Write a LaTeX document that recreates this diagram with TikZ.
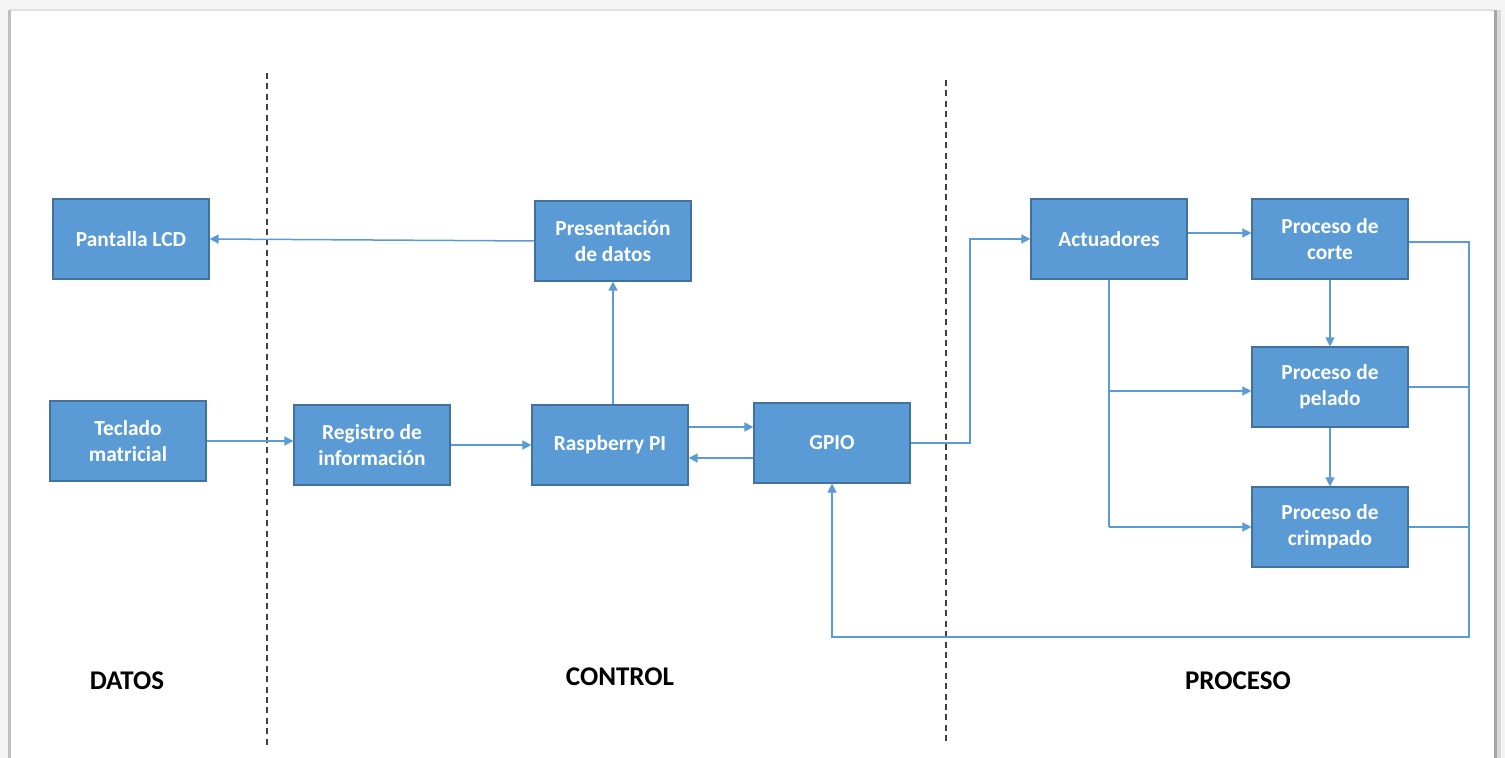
\documentclass[tikz,border=0pt]{standalone}
\usepackage{fontspec}
\setmainfont{Carlito}
\usetikzlibrary{arrows.meta,calc}
\definecolor{boxfill}{HTML}{5B9BD5}
\definecolor{boxline}{HTML}{41719C}
\definecolor{linec}{HTML}{5B9BD5}
\tikzset{
  blk/.style={draw=boxline, line width=0.6pt, fill=boxfill, text=white,
    minimum width=78pt, minimum height=40pt, inner sep=1pt, align=center,
    font=\fontsize{10.7}{13}\selectfont\bfseries},
  conn/.style={draw=linec, line width=0.75pt},
  arr/.style={conn, -{Triangle[length=4.5pt,width=4.5pt]}},
  sep/.style={draw=black!75, line width=0.9pt, dash pattern=on 3pt off 2.2pt},
  zone/.style={font=\fontsize{13.5}{15}\selectfont\bfseries, text=black}
}
\begin{document}
\begin{tikzpicture}[x=0.5pt,y=-0.5pt]
\useasboundingbox (0,0) rectangle (1505,758);
\fill[white] (0,0) rectangle (1505,758);
% panel frame with shadow
\fill[black!4] (0,0) rectangle (1505,10);
\fill[black!4] (0,0) rectangle (9,758);
\fill[black!4] (1494,0) rectangle (1505,758);
\draw[black!12, line width=1pt] (9,10) -- (1494,10);
\draw[black!25, line width=1.5pt] (9,10) -- (9,758);
\draw[black!35, line width=2.5pt] (1496,10) -- (1496,758);
\draw[black!15, line width=2pt] (1499,10) -- (1499,758);
% separators
\draw[sep] (267,73) -- (267,745);
\draw[sep] (946,80) -- (946,745);
% blocks
\node[blk] (lcd) at (131,239) {Pantalla LCD};
\node[blk] (tec) at (128,441) {Teclado\\matricial};
\node[blk] (reg) at (372,445) {Registro de\\información};
\node[blk] (pres) at (613,241) {Presentación\\de datos};
\node[blk] (rasp) at (610,445) {Raspberry PI};
\node[blk] (gpio) at (832,443) {GPIO};
\node[blk] (act) at (1109,239) {Actuadores};
\node[blk] (corte) at (1330,239) {Proceso de\\corte};
\node[blk] (pel) at (1330,387) {Proceso de\\pelado};
\node[blk] (crim) at (1330,527) {Proceso de\\crimpado};
% zone labels
\node[zone] (ldatos) at (127,681) {DATOS};
\node[zone] (lcontrol) at (620,677) {CONTROL};
\node[zone] (lproceso) at (1238,681) {PROCESO};
% connectors
\draw[arr] (pres.west) -- (lcd.east);
\draw[arr] (tec.east) -- (tec.east -| reg.west);
\draw[arr] (reg.east) -- (reg.east -| rasp.west);
\draw[arr] (rasp.north -| pres.south) -- (pres.south);
\coordinate (r1) at ($(rasp.east)+(0,-18)$);
\coordinate (r2) at ($(gpio.west)+(0,15)$);
\draw[arr] (r1) -- (r1 -| gpio.west);
\draw[arr] (r2) -- (r2 -| rasp.east);
\coordinate (g1) at (970,0);
\draw[arr] (gpio.east) -- (gpio.east -| g1) |- (act.west);
\coordinate (a1) at ($(act.east)+(0,-6)$);
\draw[arr] (a1) -- (a1 -| corte.west);
\coordinate (a2) at ($(pel.west)+(0,4)$);
\draw[conn] (act.south) -- (act.south |- crim.west);
\draw[arr] (act.south |- a2) -- (a2);
\draw[arr] (act.south |- crim.west) -- (crim.west);
\draw[arr] (corte.south) -- (pel.north);
\draw[arr] (pel.south) -- (crim.north);
\coordinate (fb) at (1469,637);
\draw[arr] ($(corte.east)+(0,3)$) -| (fb) -| (gpio.south);
\draw[conn] (pel.east) -- (pel.east -| fb);
\draw[conn] (crim.east) -- (crim.east -| fb);
\end{tikzpicture}
\end{document}
